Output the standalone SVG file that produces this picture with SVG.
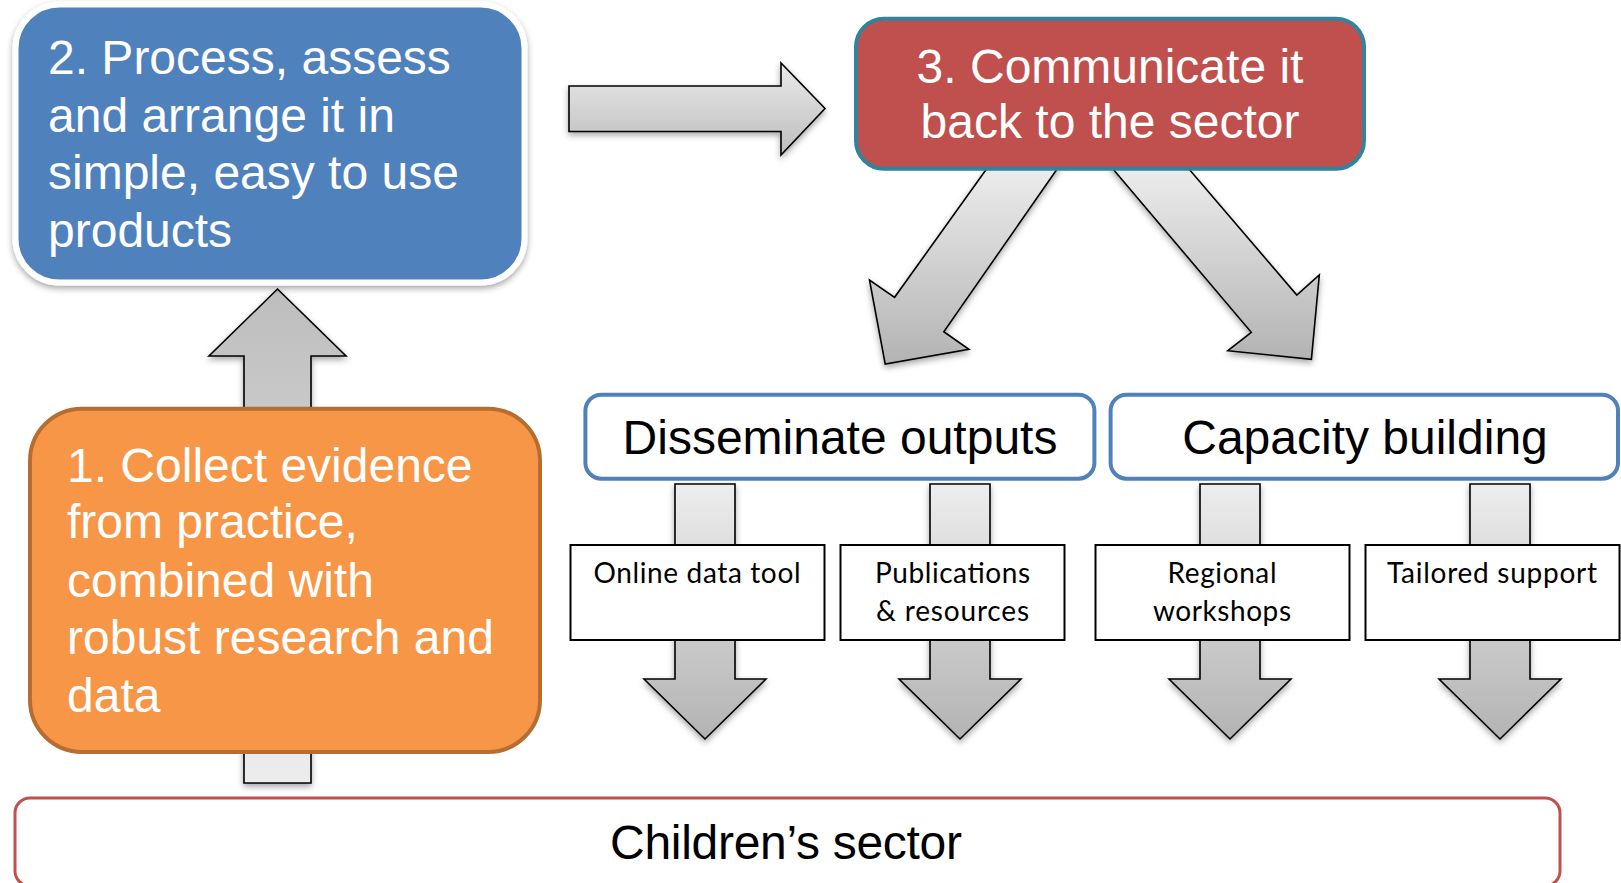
<svg xmlns="http://www.w3.org/2000/svg" width="1621" height="883" viewBox="0 0 1621 883">
<defs>
<linearGradient id="gDown" x1="0" y1="0" x2="0" y2="1"><stop offset="0" stop-color="#EDEDED"/><stop offset="1" stop-color="#B3B3B3"/></linearGradient>
<linearGradient id="gUp" x1="0" y1="0" x2="0" y2="1"><stop offset="0" stop-color="#BDBDBD"/><stop offset="1" stop-color="#EDEDED"/></linearGradient>
<linearGradient id="gRight" x1="0" y1="0" x2="0" y2="1"><stop offset="0" stop-color="#EAEAEA"/><stop offset="1" stop-color="#BDBDBD"/></linearGradient>
<filter id="sh" x="-10%" y="-10%" width="120%" height="130%"><feDropShadow dx="0" dy="3" stdDeviation="3" flood-color="#000" flood-opacity="0.35"/></filter>
</defs>
<style>
.arr{stroke:#000;stroke-width:1.6;stroke-linejoin:miter}
.big{font-family:"Liberation Sans",Arial,sans-serif;font-size:48px}
.wt{fill:#fff}
.bk{fill:#000}
.mid{text-anchor:middle}
.sm{font-family:Lato,"Open Sans",sans-serif;font-size:28px;fill:#000;text-anchor:middle}
.sbox{fill:#fff;stroke:#000;stroke-width:2}
.obox{fill:#fff;stroke:#4F81BD;stroke-width:4}
</style>
<g id="connectors">
<path class="arr" fill="url(#gUp)" filter="url(#sh)" d="M244,783 L244,356 L209,356 L277.5,289 L346,356 L311,356 L311,783 Z"/>
<path class="arr" fill="url(#gRight)" filter="url(#sh)" d="M569,86 L781,86 L781,63 L825,108.5 L781,155 L781,131.5 L569,131.5 Z"/>
<path class="arr" fill="url(#gDown)" filter="url(#sh)" d="M989.4,165 L894.6,297.3 L869.5,280 L885.2,364 L968.9,349.3 L943.8,331.7 L1059.9,165 Z"/>
<path class="arr" fill="url(#gDown)" filter="url(#sh)" d="M1109.6,165 L1251.3,332.3 L1227.8,350.7 L1311.4,359.3 L1319.3,275 L1296.8,295 L1185.5,165 Z"/>
<path class="arr" fill="url(#gDown)" filter="url(#sh)" d="M675,484 L735,484 L735,679 L766,679 L705,739 L644,679 L675,679 Z"/>
<path class="arr" fill="url(#gDown)" filter="url(#sh)" d="M930,484 L990,484 L990,679 L1021,679 L960,739 L899,679 L930,679 Z"/>
<path class="arr" fill="url(#gDown)" filter="url(#sh)" d="M1200,484 L1260,484 L1260,679 L1291,679 L1230,739 L1169,679 L1200,679 Z"/>
<path class="arr" fill="url(#gDown)" filter="url(#sh)" d="M1470,484 L1530,484 L1530,679 L1561,679 L1500,739 L1439,679 L1470,679 Z"/>
</g>
<g id="node-2">
<rect x="15.5" y="4.5" width="509" height="278" rx="44" fill="#4F81BD" stroke="#fff" stroke-width="6" filter="url(#sh)"/>
<text class="big wt" x="48" y="74">2. Process, assess</text>
<text class="big wt" x="48" y="131.7">and arrange it in</text>
<text class="big wt" x="48" y="189.3">simple, easy to use</text>
<text class="big wt" x="48" y="246.7">products</text>
</g>
<g id="node-3">
<rect x="856" y="18.7" width="508" height="150" rx="28" fill="#C0504D" stroke="#31849B" stroke-width="4"/>
<text class="big wt mid" x="1110" y="82.7">3. Communicate it</text>
<text class="big wt mid" x="1110" y="138.3">back to the sector</text>
</g>
<g id="node-1">
<rect x="30" y="408.7" width="510" height="343.3" rx="52" fill="#F79646" stroke="#B66D31" stroke-width="4"/>
<text class="big wt" x="67" y="481.7">1. Collect evidence</text>
<text class="big wt" x="67" y="538.3">from practice,</text>
<text class="big wt" x="67" y="596.7">combined with</text>
<text class="big wt" x="67" y="654">robust research and</text>
<text class="big wt" x="67" y="711.7">data</text>
</g>
<g id="disseminate">
<rect class="obox" x="585.4" y="394.7" width="509" height="84" rx="16"/>
<text class="big bk mid" x="840" y="454" font-size="47">Disseminate outputs</text>
</g>
<g id="capacity">
<rect class="obox" x="1110.6" y="394.7" width="507.4" height="84" rx="16"/>
<text class="big bk mid" x="1365" y="454" font-size="47">Capacity building</text>
</g>
<g id="online">
<rect class="sbox" x="570.5" y="545" width="254" height="95"/>
<text class="sm" x="697" y="583" textLength="207">Online data tool</text>
</g>
<g id="publications">
<rect class="sbox" x="840.5" y="545" width="224" height="95"/>
<text class="sm" x="952.5" y="583" textLength="155">Publications</text>
<text class="sm" x="952.5" y="620.5" textLength="153">&amp; resources</text>
</g>
<g id="regional">
<rect class="sbox" x="1095.5" y="545" width="254" height="95"/>
<text class="sm" x="1222" y="583" textLength="109">Regional</text>
<text class="sm" x="1222" y="620.5" textLength="138">workshops</text>
</g>
<g id="tailored">
<rect class="sbox" x="1365.5" y="545" width="254" height="95"/>
<text class="sm" x="1492" y="583" textLength="210">Tailored support</text>
</g>
<g id="childrens-sector">
<rect x="15" y="798" width="1545" height="88" rx="15" fill="#fff" stroke="#C0504D" stroke-width="3"/>
<text class="big bk mid" x="786" y="859" textLength="352">Children’s sector</text>
</g>
</svg>
